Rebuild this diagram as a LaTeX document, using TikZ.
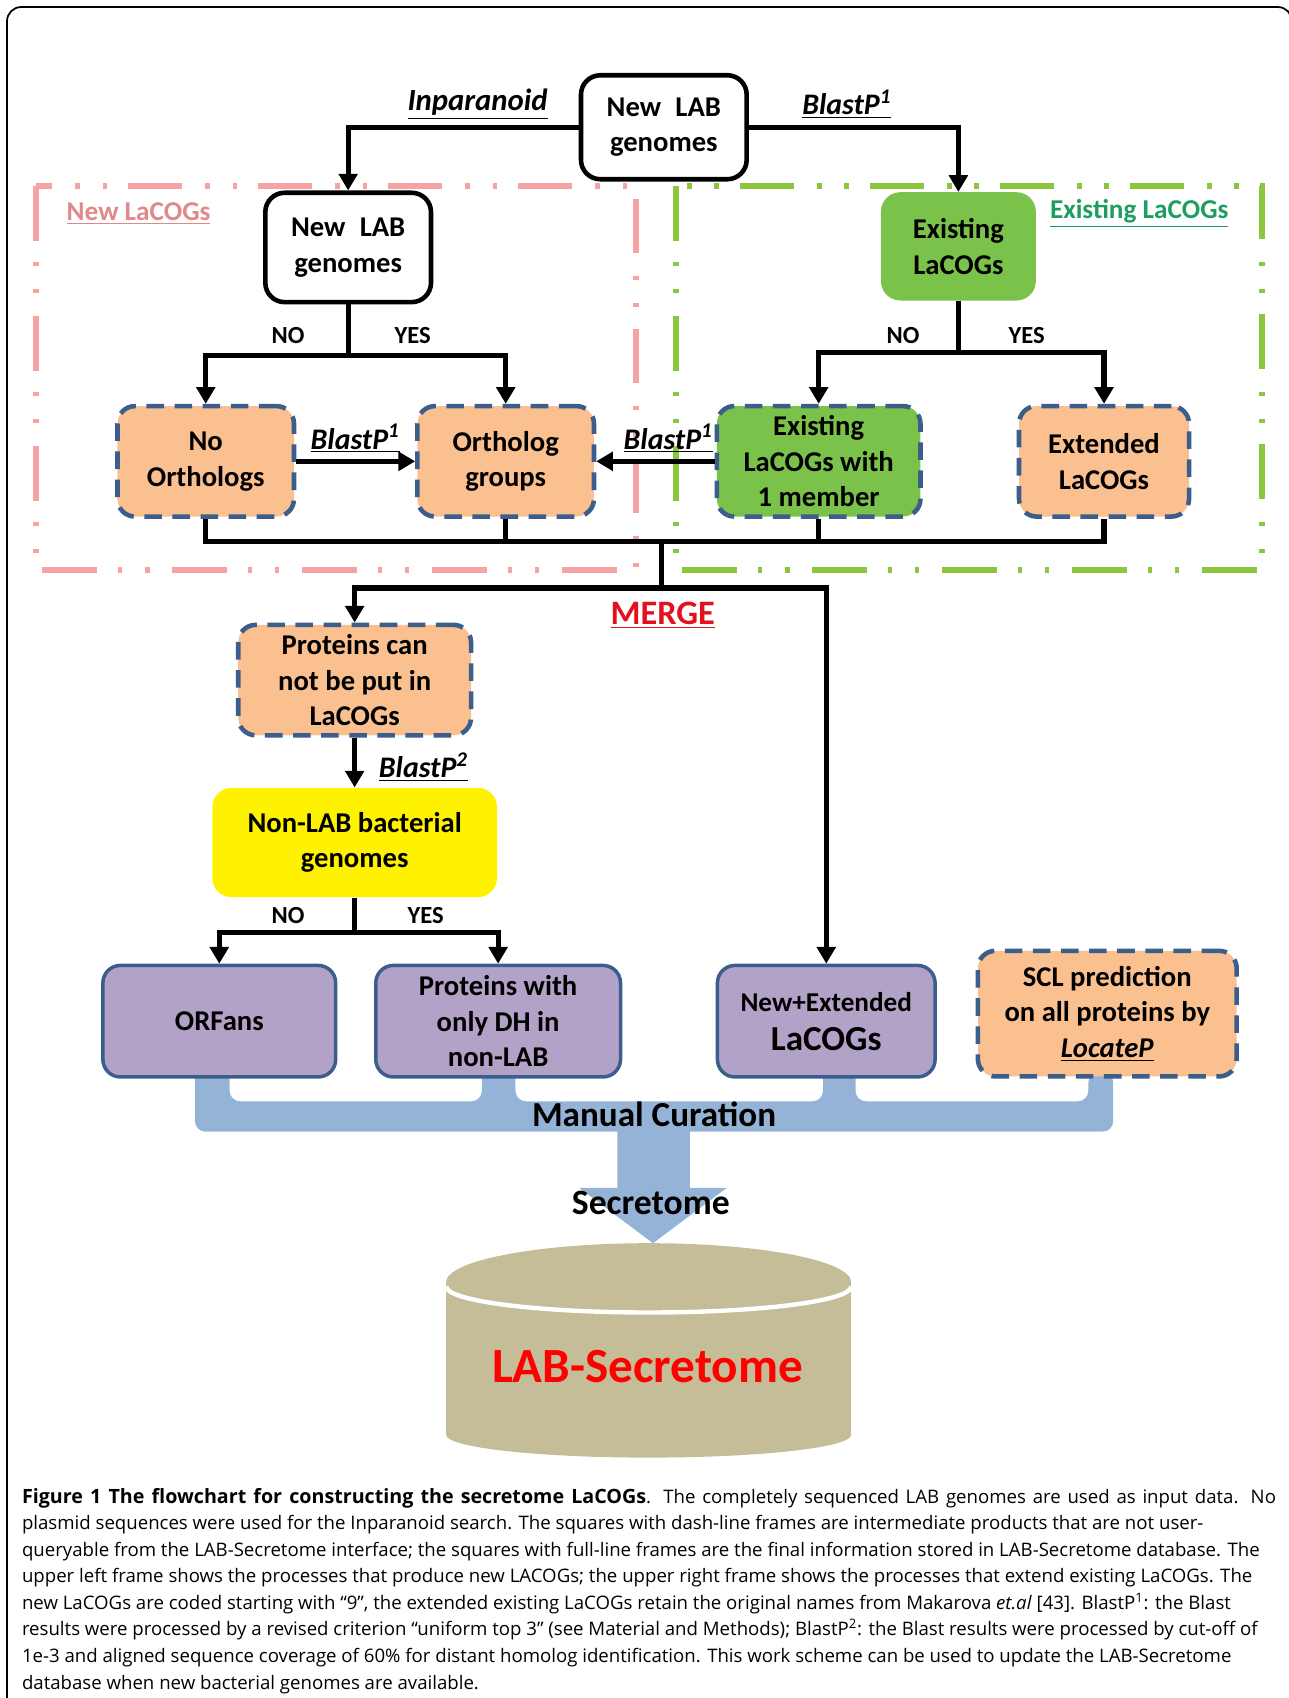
\documentclass[tikz,border=0pt]{standalone}
\usepackage{fontspec}
\setmainfont{Carlito}
\newfontfamily\capfont{Open Sans}
\usetikzlibrary{arrows.meta}
\newlength\pxu
\setlength\pxu{0.021664cm}
\definecolor{peach}{HTML}{FAC090}
\definecolor{navyline}{HTML}{3B5E8C}
\definecolor{leaf}{HTML}{7BC24A}
\definecolor{grpgreen}{HTML}{8CC63F}
\definecolor{grppink}{HTML}{F5A3A3}
\definecolor{newtxt}{HTML}{E0898B}
\definecolor{oldtxt}{HTML}{1E9E5E}
\definecolor{lilac}{HTML}{B3A2C7}
\definecolor{sky}{HTML}{95B3D7}
\definecolor{khaki}{HTML}{C4BD97}
\definecolor{mergered}{HTML}{E3101E}

\begin{document}
\begin{tikzpicture}[
            x=0.021664cm, y=-0.021664cm,
            every node/.style={font=\bfseries\fontsize{16.3}{20.3}\selectfont, align=center, inner sep=0pt},
            whitebox/.style={draw, line width=2.6pt, rounded corners=11pt, fill=white},
            dashbox/.style={draw=navyline, line width=2.6pt, dash pattern=on 10pt off 6pt, rounded corners=10pt, fill=peach},
            purplebox/.style={draw=navyline, line width=2pt, rounded corners=10pt, fill=lilac},
            conn/.style={line width=3pt, -{Triangle[width=10.5pt,length=9.5pt]}},
            wire/.style={line width=3pt},
            blast/.style={font=\bfseries\itshape\fontsize{17}{20}\selectfont},
            yesno/.style={font=\bfseries\fontsize{14}{16}\selectfont},
            groupframe/.style={line width=3.5pt, dash pattern=on 31pt off 12pt on 2.5pt off 13pt on 2.5pt off 13pt}
            ]
            \useasboundingbox (0,0) rectangle (1190,1568);
            \draw[line width=1pt, rounded corners=8pt] (6.5,1600) -- (6.5,6.5) -- (1193,6.5) -- (1193,1600);

            \draw[groupframe, grppink] (33,172) rectangle (587,526);
            \draw[groupframe, grpgreen] (624,172) rectangle (1165,526);
            \node[font=\bfseries\fontsize{15.5}{18}\selectfont, text=newtxt] (newlbl) at (128,197) {\underline{New LaCOGs}};
            \node[font=\bfseries\fontsize{15.5}{18}\selectfont, text=oldtxt] (oldlbl) at (1052,197) {\underline{Existing LaCOGs}};

            \fill[sky, rounded corners=6pt] (180,985) -- (180,1045) -- (1028,1045) -- (1028,990) -- (1005,990) -- (1005,1017) -- (790,1017) -- (790,985) -- (760,985) -- (760,1017) -- (476,1017) -- (476,985) -- (445,985) -- (445,1017) -- (212,1017) -- (212,985) -- cycle;
            \fill[sky] (570,1043) -- (570,1097) -- (535,1097) -- (603,1148) -- (671,1097) -- (637,1097) -- (637,1043) -- cycle;

            \fill[khaki] (412,1184) rectangle (786,1325);
            \fill[khaki] (599,1325) ellipse [x radius=187, y radius=21];
            \fill[khaki] (599,1184) ellipse [x radius=187, y radius=36];
            \draw[white, line width=2.5pt] (412,1188) arc[start angle=180, end angle=0, x radius=187, y radius=24];

            \node[whitebox, minimum width=153\pxu, minimum height=96\pxu] (top) at (613,117.5) {New\enspace LAB\\genomes};
            \node[whitebox, minimum width=153\pxu, minimum height=101\pxu] (newlab) at (321.5,228.5) {New\enspace LAB\\genomes};
            \node[fill=leaf, rounded corners=11pt, minimum width=143\pxu, minimum height=100\pxu] (exist) at (885,227.5) {Existing\\LaCOGs};
            \node[dashbox, minimum width=163\pxu, minimum height=102\pxu] (noorth) at (190,426) {No\\Orthologs};
            \node[dashbox, minimum width=163\pxu, minimum height=102\pxu] (orth) at (467,426) {Ortholog\\groups};
            \node[dashbox, fill=leaf, minimum width=188\pxu, minimum height=102\pxu] (exone) at (756,426) {Existing\\LaCOGs with\\1 member};
            \node[dashbox, minimum width=157\pxu, minimum height=102\pxu] (ext) at (1019.5,426) {Extended\\LaCOGs};
            \node[dashbox, minimum width=215\pxu, minimum height=102\pxu] (prot) at (327.5,628) {Proteins can\\not be put in\\LaCOGs};
            \node[fill=yellow, rounded corners=11pt, minimum width=263\pxu, minimum height=101\pxu] (nonlab) at (327.5,778) {Non-LAB bacterial\\genomes};
            \node[purplebox, minimum width=215\pxu, minimum height=103\pxu] (orfans) at (202.5,943) {ORFans};
            \node[purplebox, minimum width=226\pxu, minimum height=103\pxu] (protdh) at (460,943) {Proteins with\\only DH in\\non-LAB};
            \node[purplebox, minimum width=201\pxu, minimum height=103\pxu] (newext) at (763,943) {{\fontsize{15.5}{18}\selectfont New+Extended}\\[2pt]{\fontsize{20}{22}\selectfont LaCOGs}};
            \node[dashbox, minimum width=239\pxu, minimum height=116\pxu] (scl) at (1022.5,936) {SCL prediction\\on all proteins by\\\underline{\textit{LocateP}}};

            \draw[conn] (top.west) -| (newlab.north);
            \draw[conn] (top.east) -| (exist.north);
            \draw[wire] (newlab.south) -- ++(0,47) coordinate (nl);
            \draw[conn] (nl) -| (noorth.north);
            \draw[conn] (nl) -| (orth.north);
            \draw[wire] (exist.south) -- ++(0,48) coordinate (ex);
            \draw[conn] (ex) -| (exone.north);
            \draw[conn] (ex) -| (ext.north);
            \draw[conn] (noorth.east) -- (orth.west);
            \draw[conn] (exone.west) -- (orth.east);
            \coordinate (bus) at (611,500);
            \draw[wire] (noorth.south) |- (bus) -| (ext.south);
            \draw[wire] (orth.south) -- (orth.south |- bus);
            \draw[wire] (exone.south) -- (exone.south |- bus);
            \draw[wire] (bus) -- ++(0,43) coordinate (mrg);
            \draw[conn] (mrg) -| (prot.north);
            \draw[conn] (mrg) -| (newext.north);
            \draw[conn] (prot.south) -- (nonlab.north);
            \draw[wire] (nonlab.south) -- ++(0,32) coordinate (nb);
            \draw[conn] (nb) -| (orfans.north);
            \draw[conn] (nb) -| (protdh.north);

            \node[blast, font=\bfseries\itshape\fontsize{17.5}{20}\selectfont] (inpa) at (441,96) {\underline{Inparanoid}};
            \node[blast] (bp1) at (782,96) {\underline{BlastP\textsuperscript{1}}};
            \node[blast] (bp2) at (328,405) {\underline{BlastP\textsuperscript{1}}};
            \node[blast] (bp3) at (617,405) {\underline{BlastP\textsuperscript{1}}};
            \node[blast] (bp4) at (391,708) {\underline{BlastP\textsuperscript{2}}};
            \node[yesno] (no1) at (266,310) {NO};
            \node[yesno] (yes1) at (381,310) {YES};
            \node[yesno] (no2) at (834,310) {NO};
            \node[yesno] (yes2) at (948,310) {YES};
            \node[yesno] (no3) at (266,845) {NO};
            \node[yesno] (yes3) at (393,845) {YES};
            \node[font=\bfseries\fontsize{19.5}{22}\selectfont, text=mergered] (merge) at (612,568) {\underline{MERGE}};

            \node[font=\bfseries\fontsize{20}{22}\selectfont] (cur) at (604,1029) {Manual Curation};
            \node[font=\bfseries\fontsize{20.3}{22}\selectfont] (sec) at (601,1111) {Secretome};
            \node[font=\bfseries\fontsize{28}{30}\selectfont, text=red] (db) at (598,1262) {LAB-Secretome};

            \node[anchor=north west, align=left, font=\capfont\fontsize{10.6}{15.1}\selectfont] (cap) at (20,1374) {%
            \makebox[1158\pxu][s]{{\fontsize{11.2}{15.1}\selectfont\bfseries Figure 1 The flowchart for constructing the secretome LaCOGs}. The completely sequenced LAB genomes are used as input data. No}\\
            plasmid sequences were used for the Inparanoid search. The squares with dash-line frames are intermediate products that are not user-\\
            queryable from the LAB-Secretome interface; the squares with full-line frames are the final information stored in LAB-Secretome database. The\\
            upper left frame shows the processes that produce new LACOGs; the upper right frame shows the processes that extend existing LaCOGs. The\\
            new LaCOGs are coded starting with “9”, the extended existing LaCOGs retain the original names from Makarova \textit{et.al} [43]. BlastP\textsuperscript{1}: the Blast\\
            results were processed by a revised criterion “uniform top 3” (see Material and Methods); BlastP\textsuperscript{2}: the Blast results were processed by cut-off of\\
            1e-3 and aligned sequence coverage of 60\% for distant homolog identification. This work scheme can be used to update the LAB-Secretome\\
            database when new bacterial genomes are available.};
        \end{tikzpicture}
\end{document}
